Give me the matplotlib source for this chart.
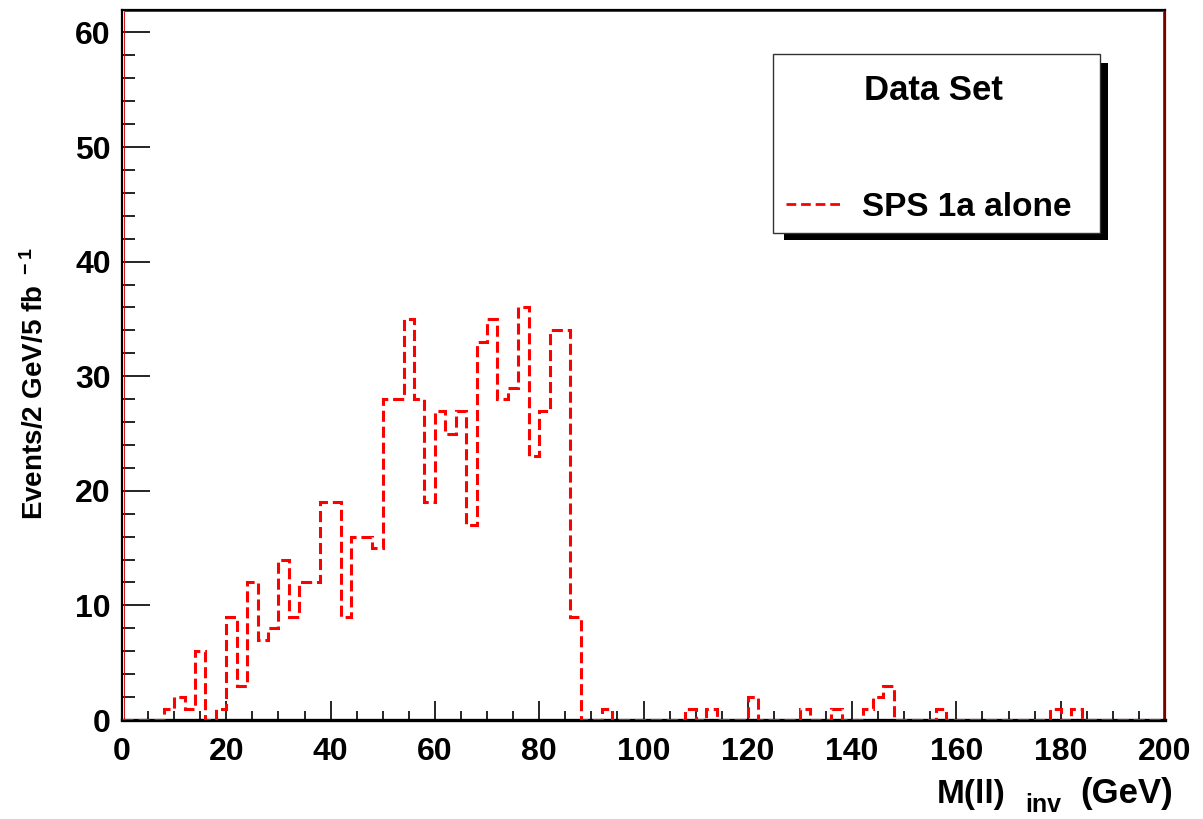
import numpy as np
import matplotlib
matplotlib.use("Agg")
import matplotlib.pyplot as plt
from matplotlib.patches import Rectangle
from matplotlib.lines import Line2D
from matplotlib.ticker import MultipleLocator

plt.rcParams["font.family"] = ["Liberation Sans", "DejaVu Sans"]
plt.rcParams["font.weight"] = "bold"
plt.rcParams["mathtext.fontset"] = "custom"
plt.rcParams["mathtext.rm"] = "Liberation Sans:bold"
plt.rcParams["mathtext.it"] = "Liberation Sans:bold"
plt.rcParams["mathtext.bf"] = "Liberation Sans:bold"
plt.rcParams["lines.scale_dashes"] = False

# Dilepton invariant mass histogram, 2 GeV bins from 0 to 200 GeV
bin_width = 2.0
mass_range = (0.0, 200.0)
counts = [
    0, 0, 0, 0, 1, 2, 1, 6, 0, 1,          # 0 - 20
    9, 3, 12, 7, 8, 14, 9, 12, 12, 19,     # 20 - 40
    19, 9, 16, 16, 15, 28, 28, 35, 28, 19, # 40 - 60
    27, 25, 27, 17, 33, 35, 28, 29, 36, 23,# 60 - 80
    27, 34, 34, 9, 0, 0, 1, 0, 0, 0,       # 80 - 100
    0, 0, 0, 0, 1, 0, 1, 0, 0, 0,          # 100 - 120
    2, 0, 0, 0, 0, 1, 0, 0, 1, 0,          # 120 - 140
    0, 1, 2, 3, 0, 0, 0, 0, 1, 0,          # 140 - 160
    0, 0, 0, 0, 0, 0, 0, 0, 0, 1,          # 160 - 180
    0, 1, 0, 0, 0, 0, 0, 0, 0, 0,          # 180 - 200
]
series_label = "SPS 1a alone"
legend_title = "Data Set"
x_label_parts = ("M(ll)", "inv", "(GeV)")
y_label = r"Events/2 GeV/5 fb $^{\rm -1}$"

edges = np.arange(mass_range[0], mass_range[1] + bin_width / 2, bin_width)

W, H = 1203, 819
fig = plt.figure(figsize=(W / 100, H / 100), dpi=100)


def fx(px):
    return px / W


def fy(py):
    return 1 - py / H


ax = fig.add_axes([fx(122), fy(720), fx(1165) - fx(122), fy(9.5) - fy(720)])

hist_style = dict(color="#ff0000", lw=2.2, ls=(0, (8, 3.5)))
ax.stairs(counts, edges, baseline=0, zorder=3, **hist_style)

ax.set_xlim(*mass_range)
ax.set_ylim(0, 62)
ax.xaxis.set_major_locator(MultipleLocator(20))
ax.xaxis.set_minor_locator(MultipleLocator(5))
ax.yaxis.set_major_locator(MultipleLocator(10))
ax.yaxis.set_minor_locator(MultipleLocator(2))

ax.tick_params(which="both", direction="in", top=False, right=False,
               width=1.2, color="black", labelsize=23)
ax.tick_params(axis="x", which="major", length=13.5, pad=12)
ax.tick_params(axis="x", which="minor", length=6.5)
ax.tick_params(axis="y", which="major", length=20, pad=8)
ax.tick_params(axis="y", which="minor", length=9.5)
for lab in ax.get_xticklabels() + ax.get_yticklabels():
    lab.set_fontweight("bold")

for side, sp in ax.spines.items():
    sp.set_color("black")
    sp.set_linewidth(1.6)
ax.spines["bottom"].set_linewidth(2.4)
ax.spines["right"].set_color("#7a0000")

# thin red frame line just inside the axis lines
ax.add_patch(Rectangle((0.0015, 0.0), 0.997, 0.9985, transform=ax.transAxes,
                       fill=False, ec="#d01010", lw=0.7, zorder=2, clip_on=False))

# x-axis title: main text with a lowered "inv" subscript
fig.text(fx(937), fy(803), x_label_parts[0], ha="left", va="baseline",
         fontsize=24, fontweight="bold")
fig.text(fx(1025), fy(812), x_label_parts[1], ha="left", va="baseline",
         fontsize=18, fontweight="bold")
fig.text(fx(1080), fy(803), x_label_parts[2], ha="left", va="baseline",
         fontsize=25, fontweight="bold")

# y-axis title
fig.text(fx(35), fy(383), y_label, rotation=90, ha="center", va="center",
         fontsize=20, fontweight="bold")

# legend box with drop shadow
fig.add_artist(Rectangle((fx(784), fy(240)), fx(1108) - fx(784), fy(63) - fy(240),
                         transform=fig.transFigure, fc="black", ec="none", zorder=5))
fig.add_artist(Rectangle((fx(773), fy(233)), fx(1100) - fx(773), fy(54) - fy(233),
                         transform=fig.transFigure, fc="white", ec="#333333",
                         lw=1.0, zorder=6))
fig.text(fx(933), fy(90), legend_title, ha="center", va="center",
         fontsize=25, fontweight="bold", zorder=7)
fig.add_artist(Line2D([fx(786), fx(843)], [fy(204), fy(204)],
                      transform=fig.transFigure, color="#ff0000", lw=2.0,
                      ls=(0, (7, 3.5)), zorder=7))
fig.text(fx(862), fy(207), series_label, ha="left", va="center",
         fontsize=24, fontweight="bold", zorder=7)

fig.savefig("out.png", dpi=100)
